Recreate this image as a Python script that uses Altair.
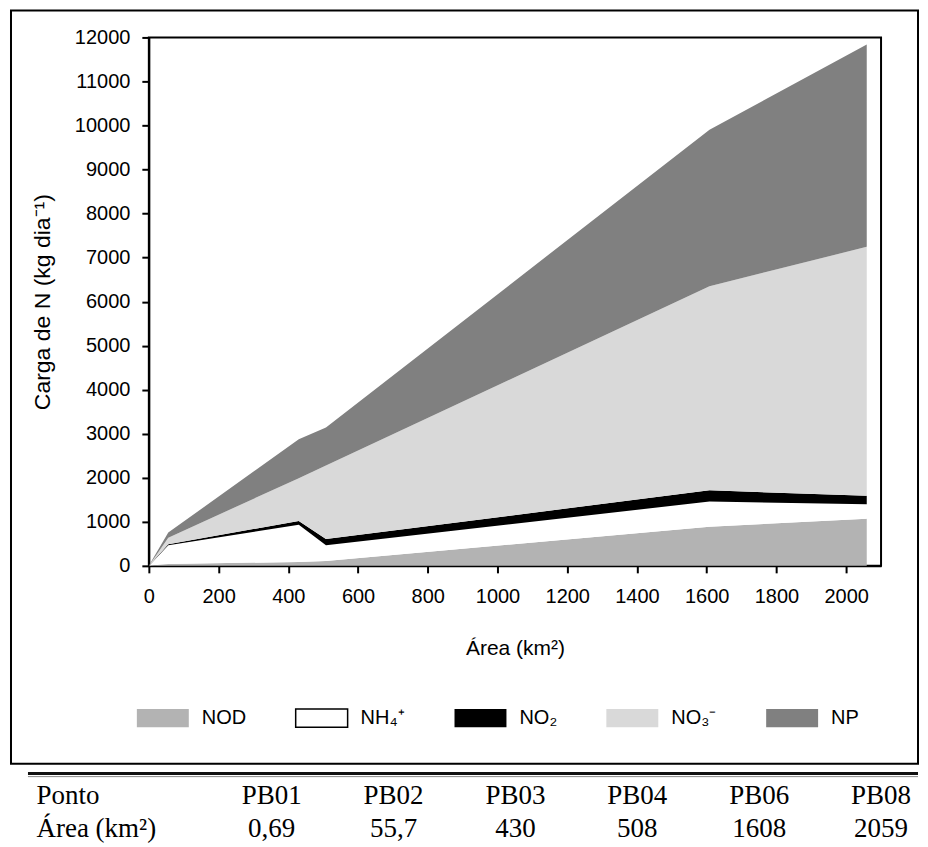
import altair as alt
import pandas as pd

# Sampling points (drainage area, km2) and point codes
areas = [0.69, 55.7, 430, 508, 1608, 2059]
pontos = ["PB01", "PB02", "PB03", "PB04", "PB06", "PB08"]
area_labels = ["0,69", "55,7", "430", "508", "1608", "2059"]

# N loads per fraction (kg/day), stacked from bottom to top
nod = [2, 40, 90, 110, 890, 1070]
nh4 = [3, 430, 845, 360, 570, 330]
no2 = [1, 20, 85, 140, 255, 190]
no3 = [4, 150, 970, 1670, 4635, 5655]
np_ = [4, 116, 885, 860, 3555, 4595]

species = ["NOD", "NH₄⁺", "NO₂", "NO₃⁻", "NP"]
colors = ["#b3b3b3", "#ffffff", "#000000", "#d9d9d9", "#808080"]

rows = []
for k, (name, vals) in enumerate(zip(species, [nod, nh4, no2, no3, np_])):
    for a, v in zip(areas, vals):
        rows.append({"area": a, "value": v, "sp": name, "ord": k})
df = pd.DataFrame(rows)

FONT = "Liberation Sans"

area = alt.Chart(df).mark_area(interpolate="linear").encode(
    x=alt.X("area:Q",
            scale=alt.Scale(domain=[0, 2100], nice=False, zero=False),
            axis=alt.Axis(values=list(range(0, 2001, 200)), format="d", title="Área (km²)",
                          grid=False, domainColor="black", domainWidth=2,
                          tickColor="black", tickWidth=2, tickSize=7,
                          labelFont=FONT, labelFontSize=20, labelColor="black",
                          labelPadding=14, labelFlush=False,
                          titleFont=FONT, titleFontSize=21, titleFontWeight="normal",
                          titleColor="black", titlePadding=31)),
    y=alt.Y("value:Q", stack="zero",
            scale=alt.Scale(domain=[0, 12000], nice=False),
            axis=alt.Axis(values=list(range(0, 12001, 1000)), format="d",
                          title="Carga de N (kg dia⁻¹)",
                          grid=False, domainColor="black", domainWidth=2,
                          tickColor="black", tickWidth=2, tickSize=7,
                          labelFont=FONT, labelFontSize=20, labelColor="black",
                          labelPadding=12,
                          titleFont=FONT, titleFontSize=23, titleFontWeight="normal",
                          titleColor="black", titlePadding=20)),
    color=alt.Color("sp:N", scale=alt.Scale(domain=species, range=colors),
                    legend=alt.Legend(title=None, orient="none", legendX=-13, legendY=654,
                                      direction="horizontal",
                                      symbolType="M-1,-0.35H1V0.35H-1Z", symbolSize=2704,
                                      symbolOpacity=1, symbolStrokeWidth=1.5,
                                      symbolStrokeColor=alt.ExprRef(
                                          "datum.value === 'NH₄⁺' ? 'black' : 'transparent'"),
                                      labelFont=FONT, labelFontSize=20, labelColor="black",
                                      labelOffset=12, columnPadding=46, padding=0)),
    order=alt.Order("ord:Q", sort="ascending"),
)

frame = alt.Chart(alt.Data(values=[{"a": 1}])).mark_rect(
    fillOpacity=0, stroke="black", strokeWidth=2
).encode(x=alt.value(-138), x2=alt.value(770), y=alt.value(-27), y2=alt.value(727))

main = alt.layer(area, frame).properties(
    width=733, height=529,
    view=alt.ViewBackground(stroke="black", strokeWidth=2),
)

trows = []
for p, lab in zip(pontos, area_labels):
    trows.append({"col": p, "row": "Ponto", "txt": p})
    trows.append({"col": p, "row": "Área (km²)", "txt": lab})
tdf = pd.DataFrame(trows)

SERIF = "Liberation Serif"
ttext = alt.Chart(tdf).mark_text(font=SERIF, fontSize=27, baseline="alphabetic",
                                 align="center", color="black").encode(
    x=alt.X("col:N", sort=pontos,
            scale=alt.Scale(type="point", range=[123, 733], padding=0), axis=None),
    y=alt.Y("row:N", sort=["Ponto", "Área (km²)"],
            scale=alt.Scale(type="point", range=[30, 63], padding=0),
            axis=alt.Axis(title=None, domain=False, ticks=False, grid=False,
                          labelAlign="left", labelPadding=113, labelBaseline="alphabetic",
                          labelFont=SERIF, labelFontSize=27, labelColor="black")),
    text="txt:N",
)
rule1 = alt.Chart(alt.Data(values=[{"a": 1}])).mark_rule(color="#111111", strokeWidth=3).encode(
    x=alt.value(-121), x2=alt.value(770), y=alt.value(0))
rule2 = alt.Chart(alt.Data(values=[{"a": 1}])).mark_rule(color="#888888", strokeWidth=1).encode(
    x=alt.value(-121), x2=alt.value(770), y=alt.value(3))

table = alt.layer(rule1, rule2, ttext).properties(
    width=733, height=63,
    view=alt.ViewBackground(stroke="transparent"),
)

chart = alt.vconcat(main, table, spacing=6).properties(
    padding={"left": 1, "right": 0, "top": 0, "bottom": 0}
).configure_view(stroke="transparent")

chart.save("out.html", embed_options={"renderer": "svg", "actions": False})
